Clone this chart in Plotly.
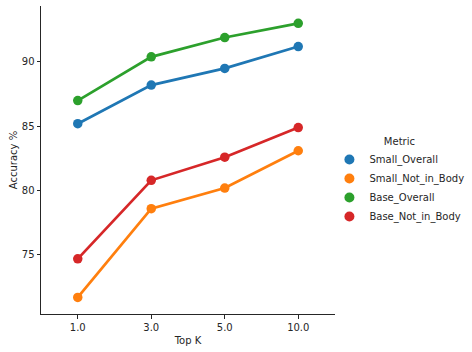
import plotly.graph_objects as go

top_k = ["1.0", "3.0", "5.0", "10.0"]
small_overall = [85.2, 88.2, 89.5, 91.2]
small_not_in_body = [71.7, 78.6, 80.2, 83.1]
base_overall = [87.0, 90.4, 91.9, 93.0]
base_not_in_body = [74.7, 80.8, 82.6, 84.9]

series = [
    ("Small_Overall", small_overall, "#1f77b4"),
    ("Small_Not_in_Body", small_not_in_body, "#ff7f0e"),
    ("Base_Overall", base_overall, "#2ca02c"),
    ("Base_Not_in_Body", base_not_in_body, "#d62728"),
]

fig = go.Figure()
for name, vals, color in series:
    fig.add_trace(go.Scatter(
        x=top_k, y=vals, name=name, mode="lines+markers",
        line=dict(color=color, width=2.7),
        marker=dict(color=color, size=9.5),
        showlegend=False,
    ))
# legend entries (markers only, like the reference)
for name, vals, color in series:
    fig.add_trace(go.Scatter(
        x=[None], y=[None], name=name, mode="markers",
        marker=dict(color=color, size=10),
        showlegend=True,
    ))

font = dict(family="DejaVu Sans", size=10, color="#262626")
fig.update_layout(
    width=472, height=352,
    margin=dict(l=41, r=137, t=6, b=38, autoexpand=False),
    paper_bgcolor="white", plot_bgcolor="white",
    font=font,
    showlegend=True,
    legend=dict(
        title=dict(text="Metric", side="top center", font=font),
        x=0.981, xanchor="left", y=0.43, yanchor="middle",
        font=font, tracegroupgap=0,
        bgcolor="rgba(0,0,0,0)",
    ),
)
fig.update_xaxes(
    type="category", range=[-0.5, 3.5], automargin=False,
    showline=True, linecolor="#262626", linewidth=1,
    ticks="outside", ticklen=3.5, tickcolor="#262626",
    showgrid=False, zeroline=False,
    title=dict(text="Top K", font=font, standoff=5),
)
fig.update_yaxes(
    range=[70.41, 94.35], automargin=False,
    tickvals=[75, 80, 85, 90],
    showline=True, linecolor="#262626", linewidth=1,
    ticks="outside", ticklen=3.5, tickcolor="#262626",
    showgrid=False, zeroline=False,
    title=dict(text="Accuracy %", font=font, standoff=2),
)
fig.write_html("out.html", config={"displayModeBar": False},
               post_script="document.body.style.margin='0';")
